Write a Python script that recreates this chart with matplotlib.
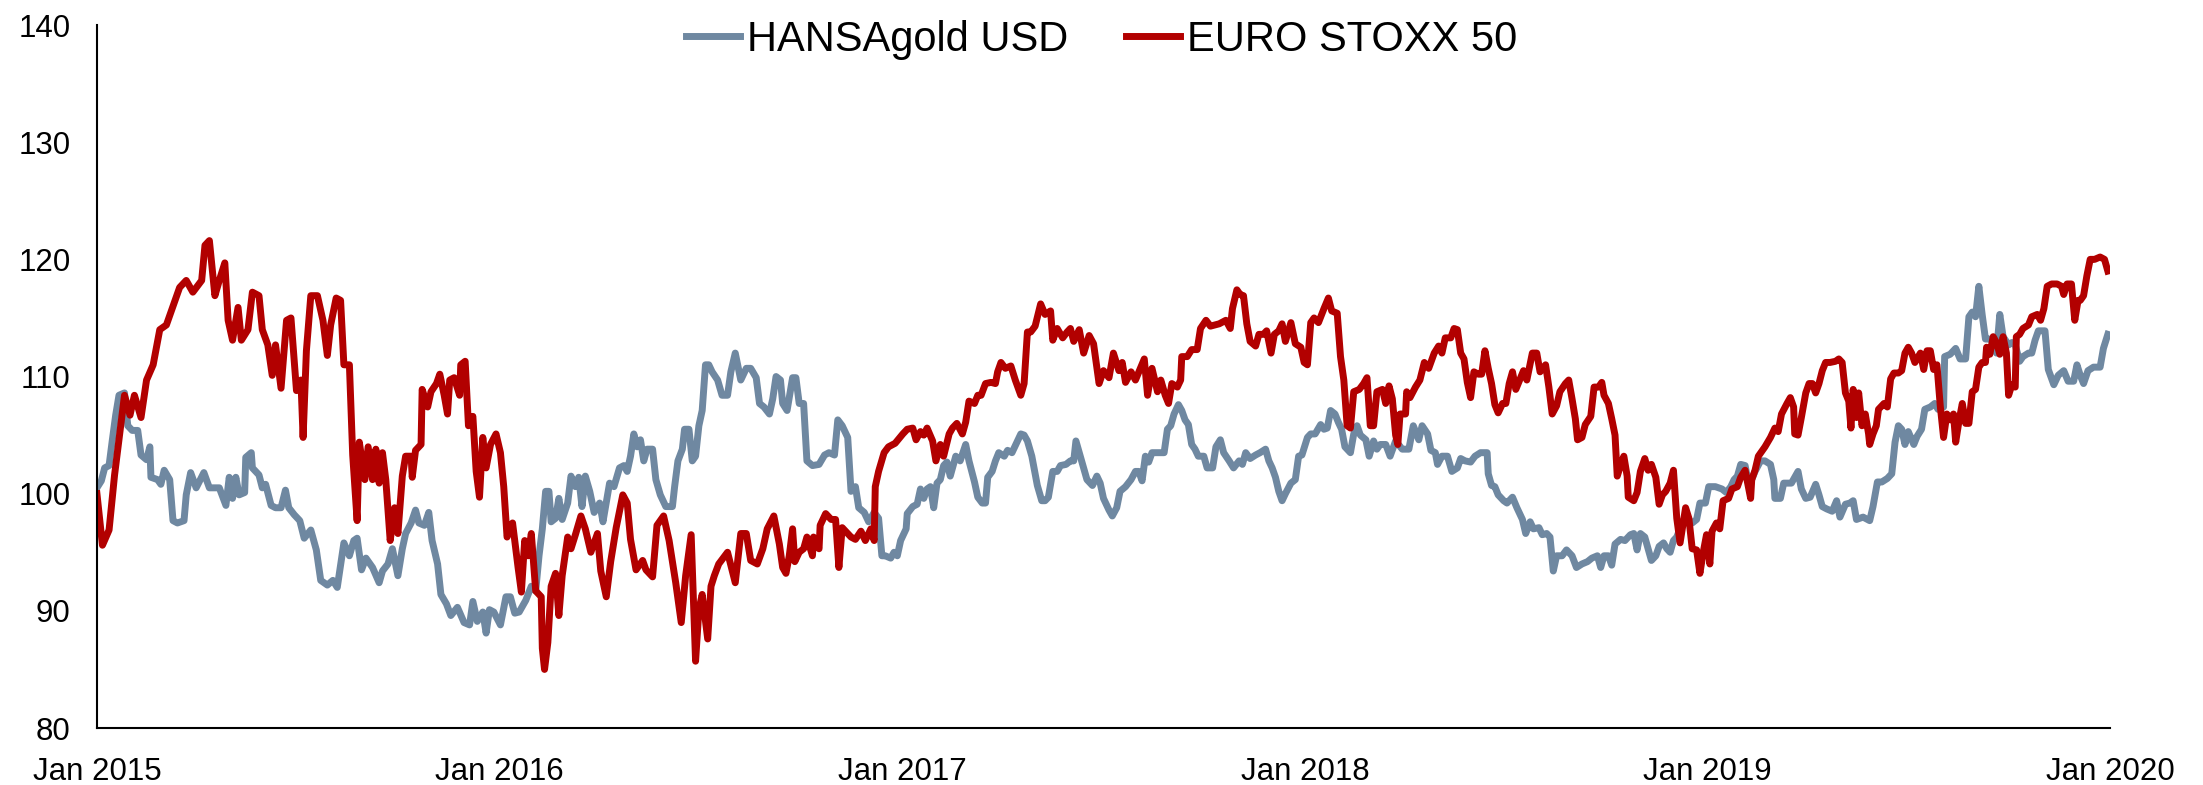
import pandas as pd
import matplotlib.pyplot as plt
import matplotlib.dates as mdates

plt.rcParams['font.family'] = ['Liberation Sans', 'DejaVu Sans']

########### data (days since 2015-01-01, index value)
hg_days = [0, 4, 7, 11, 14, 17, 20, 25, 28, 32, 37, 40, 45, 48, 49, 55, 58, 61, 66, 69,
           73, 79, 81, 85, 90, 97, 102, 111, 117, 120, 123, 126, 129, 134, 135, 140, 141, 147, 150, 153,
           158, 162, 167, 171, 174, 179, 184, 188, 194, 199, 203, 209, 214, 218, 224, 229, 233, 236, 240, 244,
           250,
           256, 259, 264, 268, 273, 277, 280, 285, 289, 292, 297, 301, 304, 309, 312, 317, 321, 327, 333, 338,
           341, 345, 350, 353, 356, 360, 366, 371, 375, 379, 383, 389, 394, 398, 401, 404, 407, 410, 412, 416,
           419, 422, 427, 430, 434, 437, 440, 443, 447, 451, 456, 459, 465, 469, 474, 478, 481, 484, 487, 490,
           493, 496, 499, 504, 507, 511, 516, 522, 524, 527, 531, 533, 537, 540, 543, 546, 549, 552, 555, 558,
           563, 567, 572, 575, 579, 584, 589, 593, 598, 601, 605, 610,
           613, 616, 620, 622, 626, 631, 634, 637, 641, 644, 649, 655, 660, 664, 669, 672, 676, 681, 684, 688,
           691, 696, 700, 705, 709, 712, 715, 720, 723, 726, 729, 734, 735, 740, 744, 747, 750, 753, 756, 759,
           762, 765, 768, 771, 774, 779, 783, 788, 791, 796, 799, 803, 806, 808, 812, 815, 818, 823, 826, 830,
           835, 838, 841, 844, 848, 853, 857, 860, 863, 867, 871, 874, 879, 883, 886, 888, 891, 894, 898, 903,
           907, 910, 913, 918, 921, 925, 928, 933, 938, 942,
           945, 948, 951, 954, 957, 963, 968, 971, 974, 977, 981, 984, 987, 990, 993, 996, 999, 1004, 1007, 1012,
           1015, 1019, 1022, 1027, 1031, 1036, 1039, 1042, 1046, 1051, 1055, 1060, 1063, 1066, 1069, 1072, 1075, 1078, 1083, 1087,
           1090, 1093, 1098, 1101, 1105, 1110, 1113, 1116, 1119, 1123, 1126, 1129, 1132, 1137, 1140, 1143, 1146, 1151, 1154, 1158,
           1161, 1164, 1169, 1173, 1178, 1184, 1190, 1194, 1199, 1202, 1207, 1210, 1214, 1216, 1220, 1225, 1229, 1234, 1237, 1241,
           1246, 1250, 1255, 1261, 1262, 1265, 1268, 1271, 1276, 1279, 1284, 1288,
           1293, 1296, 1300, 1303, 1308, 1311, 1315, 1318, 1321, 1324, 1329, 1333, 1338, 1342, 1347, 1352, 1356, 1361, 1364, 1367,
           1371, 1374, 1377, 1382, 1386, 1391, 1394, 1397, 1400, 1404, 1407, 1410, 1414, 1417, 1421, 1424, 1427, 1430, 1433, 1438,
           1442, 1447, 1451, 1454, 1459, 1462, 1468, 1474, 1478, 1482, 1485, 1488, 1491, 1495, 1498, 1501, 1504, 1509, 1513, 1518,
           1521, 1522, 1527, 1530, 1537, 1540, 1543,
           1546, 1550, 1554, 1559, 1562, 1565, 1569, 1574, 1578, 1581, 1586, 1590, 1593, 1596, 1602, 1608, 1611, 1615, 1619, 1624,
           1628, 1631, 1634, 1637, 1640, 1643, 1648, 1651, 1655, 1658, 1663, 1667, 1670, 1675, 1676, 1681, 1686, 1690, 1695, 1698,
           1701, 1704, 1707, 1710, 1713, 1716, 1719, 1723, 1726, 1729, 1734, 1737, 1740, 1744, 1747, 1752, 1755, 1758, 1761, 1767,
           1770, 1775, 1779, 1784, 1788, 1793, 1796, 1799, 1802, 1806, 1811, 1817, 1820, 1824]
hg_vals = [100.5, 101.1, 102.2, 102.4, 104.6, 106.7, 108.4, 108.6, 105.8, 105.4, 105.4, 103.3, 102.9, 104.0, 101.4, 101.2, 100.8, 102.0, 101.2, 97.7,
           97.5, 97.7, 99.9, 101.8, 100.5, 101.8, 100.5, 100.5, 99.0, 101.4, 99.6, 101.4, 99.9, 100.1, 103.1, 103.5, 102.2, 101.6, 100.5, 100.8,
           99.0, 98.8, 98.8, 100.3, 98.8, 98.2, 97.7, 96.2, 96.9, 95.2, 92.6, 92.2, 92.6, 92.0, 95.8, 94.7, 96.0, 96.2, 93.5, 94.5,
           93.7,
           92.4, 93.4, 94.0, 95.3, 93.0, 95.3, 96.6, 97.5, 98.6, 97.5, 97.3, 98.4, 96.0, 94.0, 91.4, 90.6, 89.6, 90.3, 89.0, 88.8,
           90.8, 89.1, 89.9, 88.1, 90.1, 89.9, 88.8, 91.2, 91.2, 89.8, 89.9, 90.9, 92.1, 91.7, 94.7, 97.0, 100.2, 100.2, 97.6, 97.9,
           99.6, 97.8, 99.2, 101.5, 100.6, 101.4, 98.9, 101.5, 100.2, 98.4, 99.2, 97.6, 100.9, 100.6, 102.2, 102.4, 101.9, 103.2, 105.1, 104.0,
           104.6, 102.8, 103.8, 103.8, 101.2, 99.9, 98.9, 98.9, 100.6, 102.8, 103.8, 105.5, 105.5, 102.8, 103.2, 105.8, 107.1, 111.0, 111.0, 110.4,
           109.7, 108.4, 108.4, 110.4, 112.0, 109.7, 110.7, 110.7, 109.9, 107.7, 107.4, 106.8,
           108.1, 110.0, 109.7, 107.7, 107.1, 109.9, 109.9, 107.7, 107.7, 102.8, 102.4, 102.5, 103.3, 103.5, 103.3, 106.3, 105.8, 104.8, 100.2, 100.6,
           98.8, 98.4, 97.6, 98.4, 97.9, 94.7, 94.7, 94.5, 95.0, 94.7, 96.0, 97.0, 98.3, 98.9, 99.1, 100.4, 99.6, 100.4, 100.6, 98.8,
           100.9, 101.2, 102.4, 102.7, 101.5, 103.2, 102.8, 104.2, 102.8, 101.0, 99.7, 99.2, 99.2, 101.4, 101.9, 102.8, 103.5, 103.2, 103.7, 103.5,
           104.5, 105.1, 105.0, 104.5, 103.2, 100.7, 99.4, 99.4, 99.7, 101.9, 101.9, 102.4, 102.5, 102.8, 102.8, 104.5, 103.5, 102.5, 101.2, 100.7,
           101.5, 100.9, 99.6, 98.6, 98.1, 98.8, 100.2, 100.6, 101.2, 101.9,
           101.9, 101.1, 103.2, 102.7, 103.5, 103.5, 103.5, 105.5, 105.8, 106.8, 107.6, 107.1, 106.3, 105.9, 104.2, 103.8, 103.2, 103.2, 102.2, 102.2,
           104.0, 104.6, 103.5, 102.8, 102.2, 102.8, 102.5, 103.5, 103.0, 103.3, 103.5, 103.8, 102.8, 102.2, 101.4, 100.2, 99.4, 100.0, 100.9, 101.2,
           103.2, 103.3, 104.8, 105.1, 105.1, 105.9, 105.5, 105.6, 107.1, 106.8, 106.1, 105.5, 104.0, 103.5, 105.1, 105.8, 105.0, 104.6, 103.2, 104.5,
           103.8, 104.2, 104.2, 103.2, 104.5, 103.8, 103.8, 105.8, 104.6, 105.8, 105.1, 103.7, 103.5, 102.5, 103.2, 103.2, 101.9, 102.2, 103.0, 102.8,
           102.7, 103.2, 103.5, 103.5, 101.7, 100.7, 100.6, 99.9, 99.4, 99.2, 99.7, 98.8,
           97.8, 96.6, 97.6, 97.0, 97.1, 96.5, 96.6, 96.3, 93.4, 94.7, 94.7, 95.2, 94.7, 93.7, 94.0, 94.2, 94.5, 94.7, 93.7, 94.7,
           94.7, 93.9, 95.7, 96.1, 96.0, 96.5, 96.6, 95.2, 96.6, 96.3, 95.3, 94.3, 94.7, 95.5, 95.8, 95.3, 95.0, 96.0, 96.3, 97.5,
           97.9, 97.5, 97.8, 99.2, 99.2, 100.6, 100.6, 100.4, 100.1, 100.6, 101.2, 101.5, 102.5, 102.4, 100.9, 101.2, 101.9, 102.8, 102.8, 102.5,
           101.2, 99.6, 99.6, 100.9, 100.9, 101.4, 101.9,
           100.4, 99.6, 99.7, 100.8, 99.9, 98.9, 98.7, 98.5, 99.4, 98.0, 99.1, 99.2, 99.4, 97.8, 98.0, 97.7, 98.9, 101.0, 101.0, 101.3,
           101.7, 104.4, 105.8, 105.5, 104.2, 105.3, 104.2, 104.9, 105.5, 107.2, 107.4, 107.7, 107.2, 107.4, 111.7, 111.9, 112.4, 111.5, 111.5, 115.1,
           115.5, 115.1, 117.7, 115.3, 113.2, 113.2, 113.1, 112.0, 115.3, 113.4, 112.7, 112.9, 112.7, 111.3, 111.7, 112.0, 112.0, 113.1, 113.9, 113.9,
           110.6, 109.3, 110.1, 110.5, 109.6, 109.6, 111.0, 110.1, 109.4, 110.5, 110.8, 110.8, 112.4, 113.6]

sx_days = [0, 5, 11, 16, 20, 25, 30, 34, 40, 45, 51, 57, 63, 69, 75, 81, 87, 95, 98, 102,
           107, 111, 116, 119, 123, 128, 131, 137, 141, 147, 150, 155, 159, 162, 167, 172, 176, 181, 185, 187,
           190, 194, 200, 205, 209, 212, 217, 221, 224, 229, 232, 236, 238, 243, 246, 250, 253,
           256, 259, 262, 266, 270, 273, 277, 280, 285, 286, 289, 294, 295, 300, 303, 308, 311, 315, 318, 320,
           324, 329, 330, 334, 337, 341, 344, 347, 350, 353, 357, 362, 366, 369, 372, 377, 382, 385, 388, 391,
           394, 398, 403, 404, 406, 409, 412, 416, 419, 422, 427, 430, 434, 439, 443, 448, 454, 457, 462, 466,
           471, 477, 481, 484, 489, 495, 498, 504, 508, 514, 519, 525, 530, 534, 539, 543, 546, 549, 554, 557,
           560, 564, 572, 579, 584, 589, 593, 599, 604, 608, 614,
           619, 622, 625, 628, 631, 633, 637, 641, 644, 649, 650, 655, 656, 661, 666, 670, 673, 676, 679, 684,
           688, 693, 697, 702, 705, 706, 709, 714, 718, 724, 731, 735, 740, 743, 747, 750, 753, 758, 761, 765,
           768, 773, 776, 780, 785, 788, 791, 796, 799, 802, 806, 811, 815, 817, 820, 824, 829, 833, 838, 841,
           844, 847, 851, 856, 860, 865, 867, 871, 876, 880, 883, 886, 891, 895, 900, 904, 909, 913, 918, 922,
           927, 930, 933, 938, 942,
           950, 953, 957, 962, 965, 969, 972, 975, 980, 983, 984, 989, 993, 998, 1001, 1006, 1010, 1018, 1024, 1028,
           1030, 1034, 1037, 1040, 1043, 1046, 1051, 1054, 1058, 1061, 1065, 1068, 1072, 1075, 1078, 1083, 1087, 1092, 1095, 1098,
           1101, 1104, 1108, 1113, 1117, 1120, 1125, 1128, 1131, 1134, 1137, 1140, 1145, 1149, 1152, 1155, 1158, 1161, 1166, 1169,
           1172, 1175, 1178, 1180, 1182, 1187, 1188, 1191, 1196, 1200, 1204, 1208, 1213, 1217, 1220, 1223, 1228, 1231, 1234, 1237,
           1240, 1243, 1246, 1249, 1253, 1256, 1259, 1262, 1265, 1268, 1271, 1275, 1278, 1281, 1284, 1287,
           1294, 1297, 1302, 1306, 1309, 1314, 1317, 1320, 1324, 1327, 1332, 1335, 1338, 1341, 1343, 1347, 1350, 1355, 1358, 1362,
           1365, 1367, 1371, 1374, 1377, 1379, 1382, 1385, 1388, 1389, 1394, 1397, 1400, 1404, 1407, 1410, 1414, 1417, 1420, 1423,
           1427, 1430, 1433, 1436, 1441, 1444, 1447, 1451, 1454, 1457, 1460, 1463, 1465, 1469, 1472, 1475, 1480, 1483, 1488, 1491,
           1495, 1500, 1501, 1504, 1507, 1513, 1518, 1522, 1525, 1528, 1533, 1536, 1539, 1540, 1543,
           1546, 1550, 1553, 1556, 1559, 1562, 1565, 1568, 1572, 1577, 1580, 1583, 1586, 1589, 1591, 1593, 1596, 1598, 1601, 1604,
           1607, 1608, 1611, 1614, 1616, 1621, 1624, 1627, 1630, 1634, 1637, 1640, 1643, 1646, 1649, 1654, 1657, 1660, 1663, 1666,
           1669, 1672, 1675, 1678, 1681, 1684, 1686, 1689, 1692, 1695, 1698, 1701, 1704, 1707, 1710, 1713, 1714, 1717, 1720, 1723,
           1726, 1729, 1732, 1734, 1737, 1740, 1741, 1744, 1747, 1752, 1755, 1760, 1763, 1766, 1769, 1773, 1778, 1782, 1784, 1787,
           1791, 1794, 1797, 1799, 1802, 1805, 1808, 1812, 1817, 1821, 1824]
sx_vals = [100.0, 95.6, 96.9, 101.6, 104.6, 108.4, 106.7, 108.4, 106.5, 109.7, 111.0, 114.0, 114.4, 116.0, 117.6, 118.2, 117.2, 118.2, 121.2, 121.6,
           116.9, 118.2, 119.7, 114.8, 113.1, 115.9, 113.1, 114.0, 117.2, 116.9, 114.0, 112.7, 110.1, 112.7, 109.0, 114.8, 115.0, 108.8, 109.7, 104.8,
           112.2, 116.9, 116.9, 114.8, 111.8, 114.4, 116.7, 116.5, 111.0, 111.0, 103.3, 97.7, 104.4, 101.2, 104.0, 101.2, 103.8,
           100.9, 103.5, 101.2, 96.0, 98.8, 96.6, 101.5, 103.2, 103.2, 101.4, 103.7, 104.2, 108.9, 107.4, 108.7, 109.4, 110.2, 108.4, 106.8, 109.7,
           109.9, 108.4, 111.0, 111.3, 105.8, 106.6, 101.9, 99.7, 104.8, 102.2, 104.2, 105.1, 103.5, 100.6, 96.3, 97.5, 93.7, 91.6, 96.0, 94.7,
           96.6, 91.7, 91.2, 86.8, 85.0, 87.3, 92.1, 93.2, 89.6, 93.0, 96.3, 95.3, 96.5, 98.1, 97.0, 95.0, 96.6, 93.4, 91.2, 94.2,
           97.1, 99.9, 99.2, 96.1, 93.5, 94.3, 93.5, 92.9, 97.3, 98.1, 96.0, 92.4, 89.0, 93.0, 96.5, 85.7, 90.1, 91.4, 87.6, 92.1,
           93.0, 94.0, 95.0, 92.4, 96.6, 96.6, 94.3, 94.0, 95.3, 97.0, 98.1,
           95.7, 93.7, 93.2, 94.7, 97.0, 94.2, 95.0, 95.3, 96.3, 94.7, 96.3, 95.3, 97.3, 98.3, 97.8, 97.8, 93.7, 97.1, 96.8, 96.3,
           96.1, 96.8, 96.0, 97.0, 96.0, 100.6, 101.9, 103.5, 104.0, 104.3, 105.1, 105.5, 105.6, 104.6, 105.3, 105.0, 105.6, 104.5, 102.8, 104.2,
           103.2, 105.1, 105.6, 106.0, 105.1, 106.1, 107.9, 107.7, 108.4, 108.4, 109.4, 109.5, 109.4, 110.4, 111.2, 110.7, 110.9, 109.7, 108.4, 109.4,
           113.8, 113.8, 114.3, 116.2, 115.3, 115.6, 113.1, 114.1, 113.3, 113.8, 114.1, 113.0, 114.0, 112.0, 113.5, 112.8, 109.4, 110.5, 109.9, 112.0,
           110.5, 111.2, 109.5, 110.4, 109.7,
           111.5, 108.4, 110.7, 108.7, 109.7, 108.4, 107.7, 109.4, 109.1, 109.7, 111.7, 111.7, 112.3, 112.3, 114.1, 114.8, 114.3, 114.5, 114.8, 114.1,
           115.8, 117.4, 117.0, 116.9, 114.5, 113.0, 112.6, 113.6, 113.6, 113.9, 112.0, 113.6, 113.9, 114.5, 113.0, 114.6, 112.8, 112.5, 111.2, 111.0,
           114.6, 115.0, 114.6, 115.8, 116.7, 115.6, 115.4, 111.7, 109.7, 105.8, 105.6, 108.7, 108.9, 109.4, 109.9, 105.8, 105.8, 108.7, 108.9, 107.7,
           109.2, 108.1, 105.0, 104.2, 106.8, 106.8, 108.7, 108.2, 109.1, 109.7, 111.2, 110.7, 112.0, 112.6, 112.0, 113.3, 113.3, 114.1, 114.0, 112.0,
           111.5, 109.5, 108.2, 110.4, 110.2, 110.2, 112.2, 110.7, 109.4, 107.6, 106.9, 107.7, 107.7, 109.4, 110.4, 108.9,
           110.5, 109.7, 112.0, 112.0, 110.4, 111.0, 109.1, 106.8, 107.5, 108.7, 109.4, 109.7, 108.1, 106.4, 104.6, 104.8, 105.9, 106.6, 109.1, 109.1,
           109.5, 108.4, 107.7, 106.4, 105.0, 101.5, 102.4, 103.2, 101.5, 99.7, 99.4, 100.1, 101.9, 103.0, 102.0, 102.5, 101.4, 99.1, 99.9, 100.2,
           100.9, 102.0, 97.9, 95.8, 98.8, 97.9, 95.3, 95.2, 93.2, 95.0, 96.5, 94.0, 96.8, 97.5, 97.0, 99.4, 99.6, 100.4, 100.6, 101.4,
           102.0, 99.6, 101.2, 102.0, 103.2, 104.0, 104.8, 105.6, 105.3, 106.8, 107.7, 108.2, 107.4, 105.1, 105.0,
           106.5, 108.6, 109.4, 109.4, 108.6, 109.4, 110.5, 111.2, 111.2, 111.3, 111.5, 111.2, 108.6, 107.9, 105.6, 108.9, 106.5, 108.6, 105.8, 106.8,
           105.1, 104.2, 105.1, 105.8, 107.2, 107.7, 107.4, 109.8, 110.3, 110.3, 110.5, 112.0, 112.5, 112.0, 111.2, 112.0, 110.6, 112.2, 112.2, 110.6,
           111.0, 107.5, 104.8, 106.8, 106.3, 106.8, 104.4, 106.2, 107.7, 106.0, 106.0, 108.7, 108.9, 110.8, 111.2, 111.2, 112.5, 111.9, 113.4, 112.9,
           111.9, 113.4, 112.0, 108.4, 109.3, 109.1, 113.4, 113.6, 114.1, 114.4, 115.1, 115.3, 114.8, 115.8, 117.7, 117.9, 117.9, 117.7, 117.0, 117.9,
           117.9, 114.8, 116.5, 116.5, 116.9, 118.6, 120.0, 120.0, 120.2, 120.0, 119.0]

start = pd.Timestamp('2015-01-01')
hg_dates = start + pd.to_timedelta(hg_days, unit='D')
sx_dates = start + pd.to_timedelta(sx_days, unit='D')

########### plot
fig = plt.figure(figsize=(22.03, 7.85), dpi=100)
ax = fig.add_axes([0.044, 0.0726, 0.9138, 0.8955])

ax.plot(hg_dates, hg_vals, color='#6f88a1', lw=5, label='HANSAgold USD', solid_joinstyle='round')
ax.plot(sx_dates, sx_vals, color='#b20000', lw=5, label='EURO STOXX 50', solid_joinstyle='round')

ax.set_xlim(pd.Timestamp('2015-01-01'), pd.Timestamp('2020-01-01'))
ax.set_ylim(80, 140)
ax.set_yticks(range(80, 141, 10))
ax.xaxis.set_major_locator(mdates.YearLocator())
ax.xaxis.set_major_formatter(mdates.DateFormatter('Jan %Y'))

for s in ['top', 'right']:
    ax.spines[s].set_visible(False)
for s in ['left', 'bottom']:
    ax.spines[s].set_linewidth(1.5)
    ax.spines[s].set_color('black')
ax.tick_params(axis='y', length=0, pad=19, labelsize=22.5)
ax.tick_params(axis='x', length=0, pad=21, labelsize=22.5)

fig.legend(loc='center', bbox_to_anchor=(0.5, 1 - 40 / 785), ncol=2, frameon=False,
           fontsize=30, handlelength=1.3, handletextpad=0.15, columnspacing=1.4)

plt.savefig('out.png', dpi=100)
